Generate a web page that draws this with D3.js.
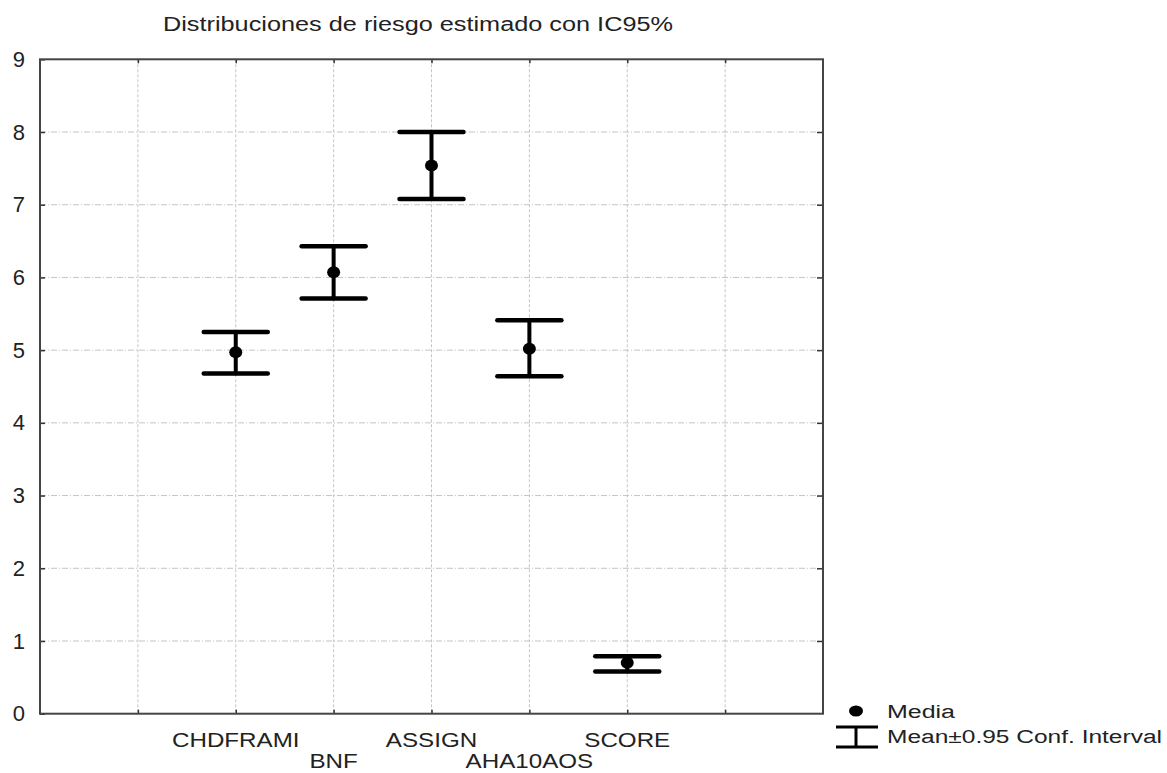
<!DOCTYPE html>
<html>
<head>
<meta charset="utf-8">
<script src="https://cdn.jsdelivr.net/npm/d3@7"></script>
<style>
  html, body { margin: 0; padding: 0; background: #fff; }
  svg { display: block; font-family: "Liberation Sans", Arial, sans-serif; }
</style>
</head>
<body>
<svg id="chart" width="1167" height="773"></svg>
<script>
// Risk estimators and their mean with 95% confidence interval
const categories = ["CHDFRAMI", "BNF", "ASSIGN", "AHA10AOS", "SCORE"];
const means      = [4.97, 6.07, 7.54, 5.02, 0.70];
const lowerCI    = [4.68, 5.71, 7.08, 4.64, 0.58];
const upperCI    = [5.25, 6.43, 8.00, 5.41, 0.79];
const yTicks     = [0, 1, 2, 3, 4, 5, 6, 7, 8, 9];
const titleText  = "Distribuciones de riesgo estimado con IC95%";
const legendLabels = ["Media", "Mean\u00b10.95 Conf. Interval"];

const svg = d3.select("#chart");
const plot = { left: 40, right: 823, top: 59.3, bottom: 713.7 };

// category i sits at slot i+2 of an 8-slot axis
const x = d3.scaleLinear().domain([0, 8]).range([plot.left, plot.right]);
const y = d3.scaleLinear().domain([0, 9]).range([plot.bottom, plot.top]);
const slot = i => x(i + 2);

// stretch text horizontally to a given width
function fit(sel, w) {
  sel.attr("textLength", w).attr("lengthAdjust", "spacingAndGlyphs");
}

// grid
const grid = svg.append("g").attr("stroke", "#c4c4c4").attr("stroke-width", 1)
  .attr("stroke-dasharray", "6,2,1,2").attr("fill", "none");
grid.selectAll("line.v").data(d3.range(1, 8)).join("line")
  .attr("x1", d => x(d)).attr("x2", d => x(d))
  .attr("y1", plot.top).attr("y2", plot.bottom)
  .attr("stroke-dasharray", "3,2");
grid.selectAll("line.h").data(yTicks.slice(1, -1)).join("line")
  .attr("x1", plot.left).attr("x2", plot.right)
  .attr("y1", d => y(d)).attr("y2", d => y(d));

// axes
const yAxis = d3.axisLeft(y).tickValues(yTicks).tickSize(-5).tickPadding(15).tickFormat(d3.format("d"));
const gy = svg.append("g").attr("transform", `translate(${plot.left},0)`).call(yAxis);
gy.select(".domain").remove();
gy.selectAll(".tick line").attr("stroke", "#333").attr("stroke-width", 1.5);
gy.selectAll(".tick text").attr("font-size", 22).attr("fill", "#222")
  .attr("font-family", "Liberation Sans, Arial, sans-serif");

const yAxisR = d3.axisRight(y).tickValues(yTicks.slice(1, -1)).tickSize(-6).tickFormat("");
const gyr = svg.append("g").attr("transform", `translate(${plot.right},0)`).call(yAxisR);
gyr.select(".domain").remove();
gyr.selectAll(".tick line").attr("stroke", "#333").attr("stroke-width", 1.5);

const xAxisB = d3.axisBottom(x).tickValues(d3.range(1, 8)).tickSize(-4).tickFormat("");
const gxb = svg.append("g").attr("transform", `translate(0,${plot.bottom})`).call(xAxisB);
gxb.select(".domain").remove();
gxb.selectAll(".tick line").attr("stroke", "#333").attr("stroke-width", 1.5);

const xAxisT = d3.axisTop(x).tickValues(d3.range(1, 8)).tickSize(-4).tickFormat("");
const gxt = svg.append("g").attr("transform", `translate(0,${plot.top})`).call(xAxisT);
gxt.select(".domain").remove();
gxt.selectAll(".tick line").attr("stroke", "#333").attr("stroke-width", 1.5);

// frame
svg.append("rect")
  .attr("x", plot.left).attr("y", plot.top)
  .attr("width", plot.right - plot.left).attr("height", plot.bottom - plot.top)
  .attr("fill", "none").attr("stroke", "#444").attr("stroke-width", 2);

// category labels, alternating rows
svg.append("g").selectAll("text").data(categories).join("text")
  .attr("x", (d, i) => slot(i))
  .attr("y", (d, i) => i % 2 === 0 ? 747 : 768)
  .attr("text-anchor", "middle")
  .attr("font-size", 21).attr("fill", "#222")
  .text(d => d)
  .each(function () {
    const w = this.getComputedTextLength();
    d3.select(this).call(fit, w * 1.15);
  });

// error bars
const capHalf = 32;
const bars = svg.append("g").attr("stroke", "#000").attr("stroke-linecap", "round");
categories.forEach((c, i) => {
  const cx = slot(i);
  bars.append("line").attr("x1", cx).attr("x2", cx)
    .attr("y1", y(upperCI[i])).attr("y2", y(lowerCI[i])).attr("stroke-width", 4);
  [upperCI[i], lowerCI[i]].forEach(v => {
    bars.append("line").attr("x1", cx - capHalf).attr("x2", cx + capHalf)
      .attr("y1", y(v)).attr("y2", y(v)).attr("stroke-width", 4.5);
  });
});

// mean markers
svg.append("g").selectAll("ellipse").data(means).join("ellipse")
  .attr("cx", (d, i) => slot(i)).attr("cy", d => y(d))
  .attr("rx", 6.5).attr("ry", 6).attr("fill", "#000");

// title
svg.append("text")
  .attr("x", 418).attr("y", 31).attr("text-anchor", "middle")
  .attr("font-size", 20).attr("fill", "#222")
  .text(titleText).call(fit, 510);

// legend
const lg = svg.append("g");
lg.append("ellipse").attr("cx", 856).attr("cy", 711).attr("rx", 7).attr("ry", 5.5).attr("fill", "#000");
lg.append("line").attr("x1", 856).attr("x2", 856).attr("y1", 727).attr("y2", 747)
  .attr("stroke", "#000").attr("stroke-width", 3);
[727, 747].forEach(yy => lg.append("line").attr("x1", 836).attr("x2", 878)
  .attr("y1", yy).attr("y2", yy).attr("stroke", "#000").attr("stroke-width", 3));
lg.append("text").attr("x", 887).attr("y", 718).attr("font-size", 18).attr("fill", "#222")
  .text(legendLabels[0]).call(fit, 68);
lg.append("text").attr("x", 887).attr("y", 743).attr("font-size", 18).attr("fill", "#222")
  .text(legendLabels[1]).call(fit, 275);
</script>
</body>
</html>
